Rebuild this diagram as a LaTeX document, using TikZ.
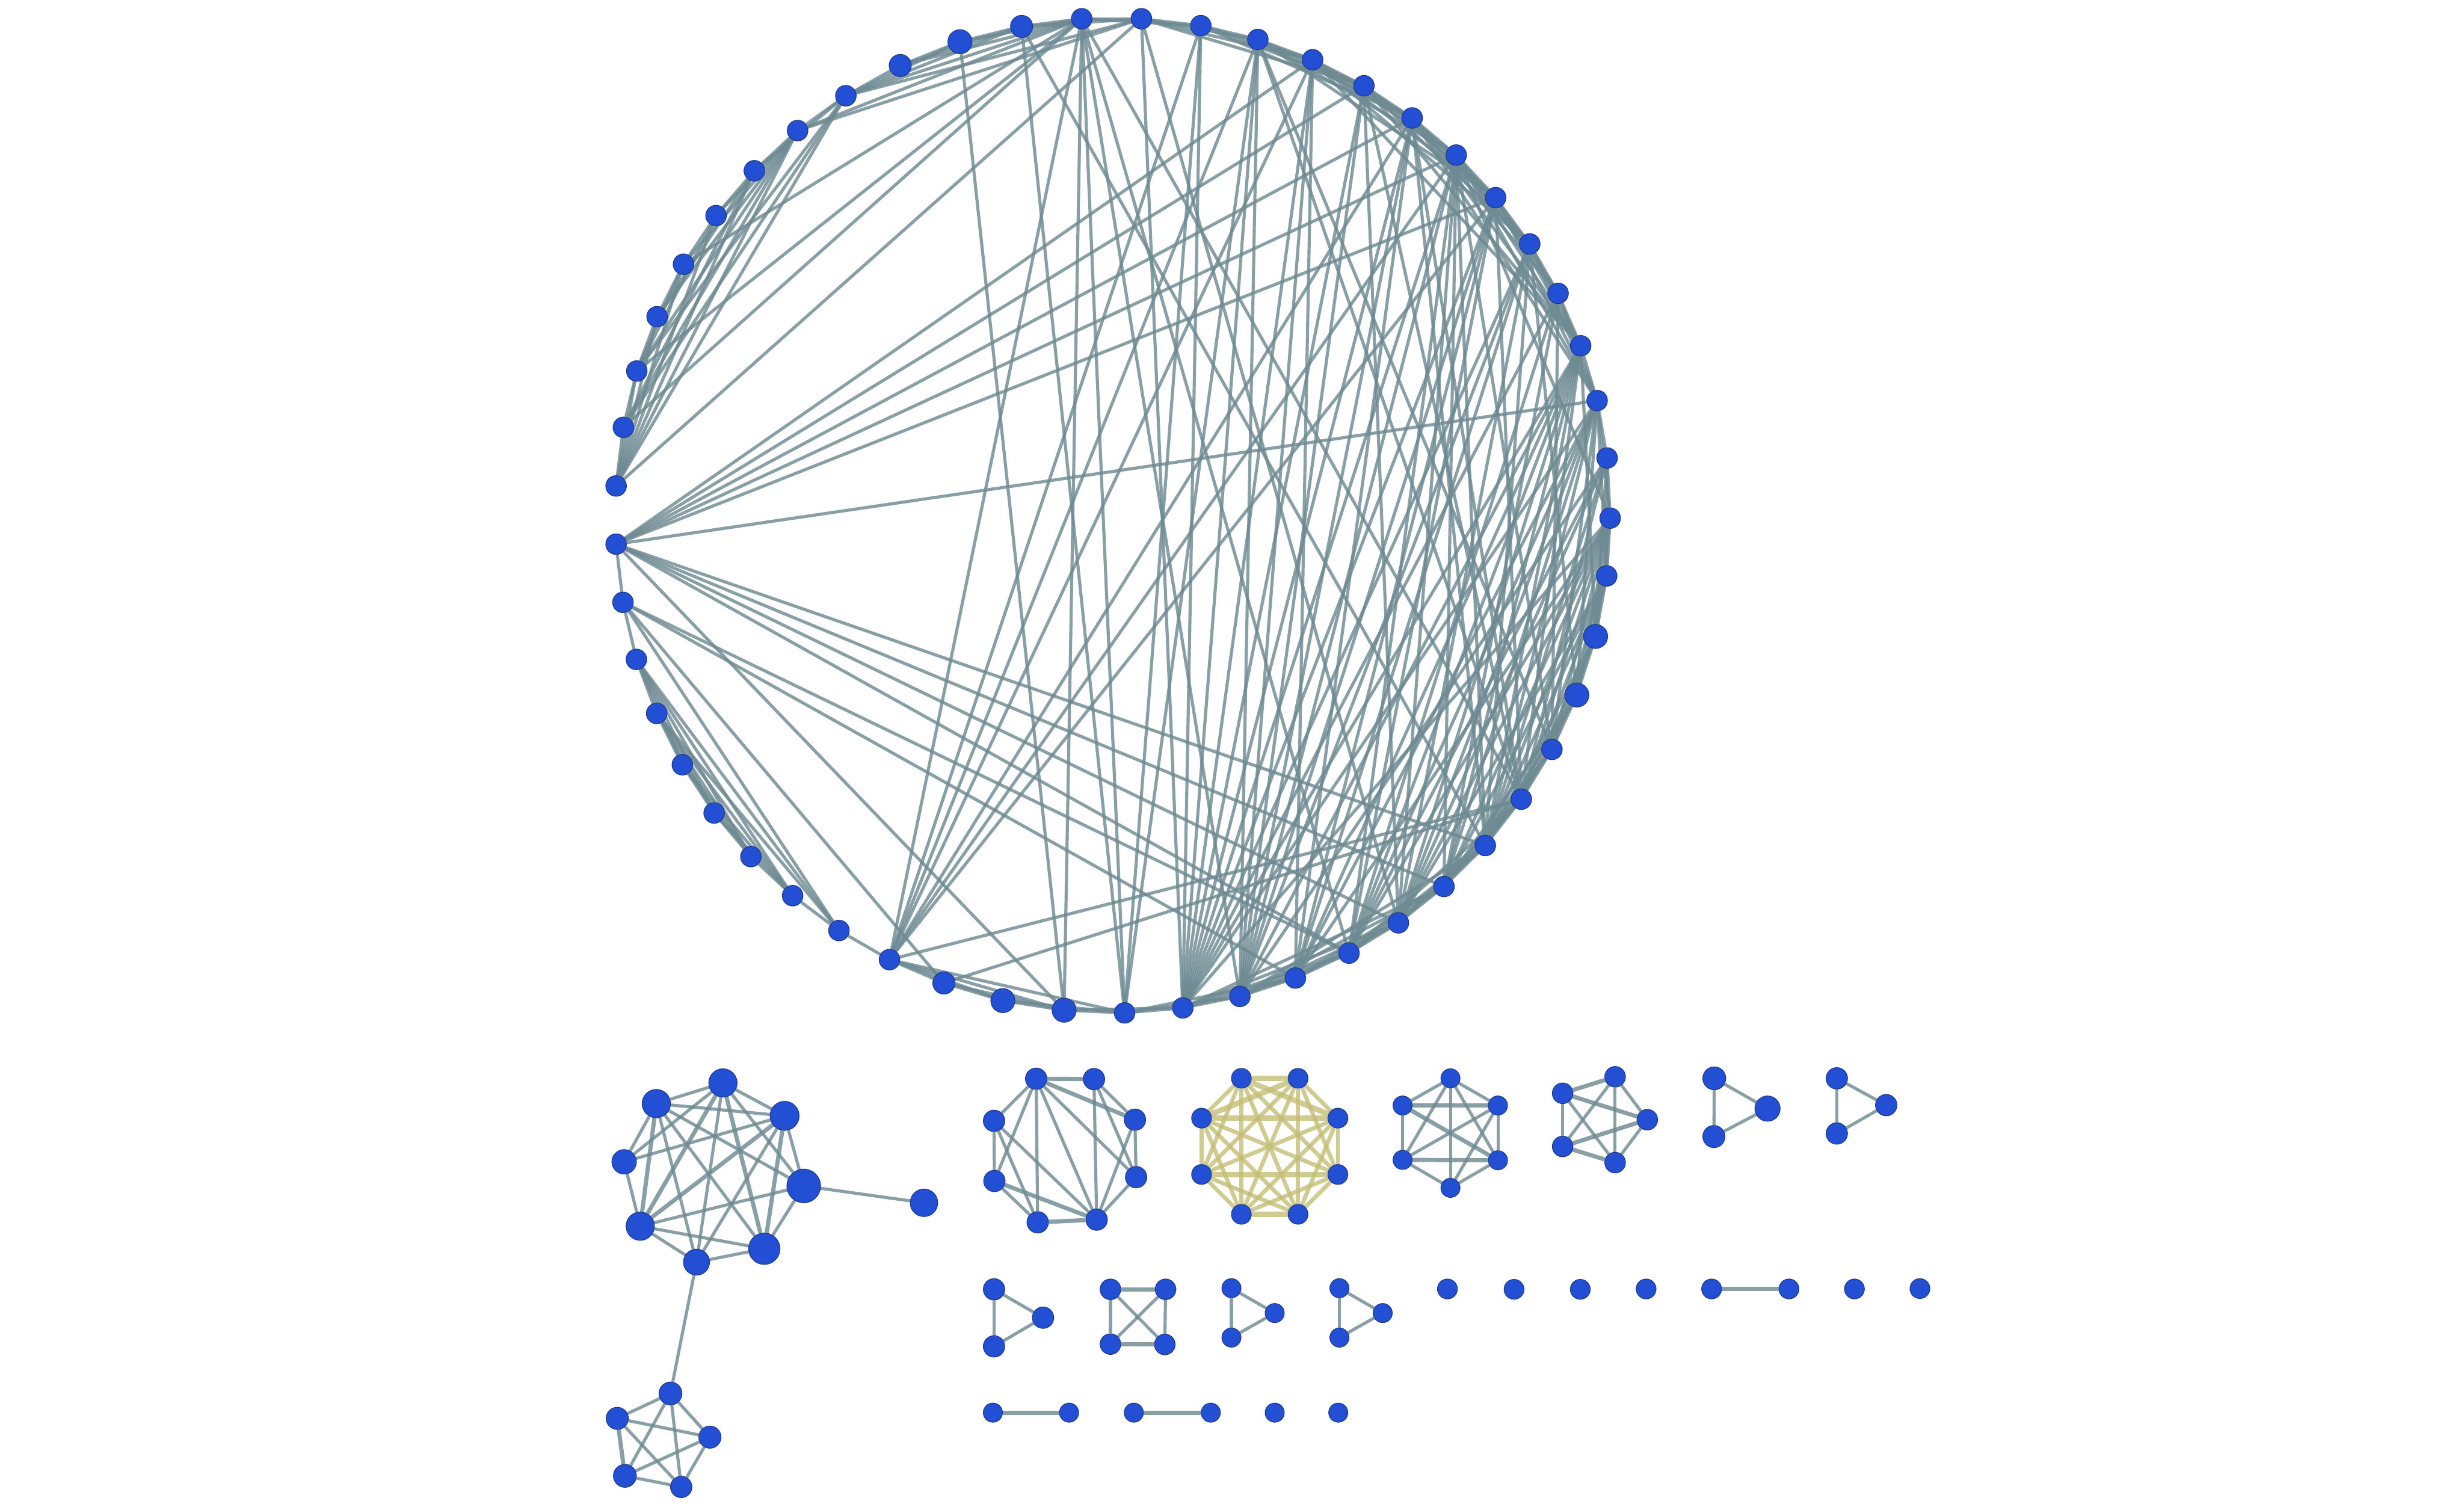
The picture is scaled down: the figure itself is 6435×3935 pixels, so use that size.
\documentclass[tikz,border=0pt]{standalone}
\pgfdeclarelayer{bg}
\pgfdeclarelayer{edges}
\pgfsetlayers{bg,edges,main}
\definecolor{nodeblue}{RGB}{35,79,212}
\definecolor{nodeline}{RGB}{30,55,135}
\definecolor{edgegray}{RGB}{110,138,146}
\definecolor{edgeyel}{RGB}{196,190,118}
\tikzset{
  cn/.style={circle, fill=nodeblue, draw=nodeline, line width=0.5pt, inner sep=0pt, minimum size=#1},
  cn/.default=0.54cm,
  ed/.style={draw=edgegray, line width=2.3pt, draw opacity=0.82},
  edm/.style={draw=edgegray, line width=3.1pt, draw opacity=0.82},
  ey/.style={draw=edgeyel, line width=3.0pt, draw opacity=0.8},
  eyk/.style={draw=edgeyel, line width=4.0pt, draw opacity=0.8}
}
\begin{document}
\begin{tikzpicture}[x=0.01cm,y=-0.01cm]
\begin{pgfonlayer}{bg}
\fill[white] (0,0) rectangle (6435,3935);
\end{pgfonlayer}
\useasboundingbox (0,0) rectangle (6435,3935);
% ---------------- circle nodes
\foreach \i/\x/\y in {1/2981/49,2/2825/49,3/2668/69,4/2507/109,5/2351/171,6/2209/250,7/2083/341,8/1970/446,9/1870/563,10/1785/690,11/1716/827,12/1663/969,13/1628/1116,14/1609/1269,15/1609/1421,16/1627/1573,17/1662/1722,18/1715/1863,19/1782/1997,20/1865/2123,21/1961/2237,22/2070/2339,23/2191/2430,24/2323/2506,25/2465/2567,26/2619/2613,27/2779/2638,28/2937/2645,29/3089/2632,30/3238/2602,31/3383/2554,32/3523/2489,33/3652/2410,34/3771/2315,35/3879/2208,36/3973/2087,37/4053/1957,38/4118/1815,39/4167/1662,40/4196/1504,41/4205/1353,42/4197/1196,43/4171/1046,44/4128/903,45/4069/766,46/3995/637,47/3906/516,48/3803/405,49/3688/308,50/3562/224,51/3428/156,52/3285/103,53/3136/67}
  \node[cn] (n\i) at (\x,\y) {};
\foreach \i in {4,26,27,38,39}
  \node[cn=0.63cm] at (n\i) {};
\foreach \i in {3,5,25}
  \node[cn=0.58cm] at (n\i) {};
% ---------------- lower-left cluster
\node[cn=0.74cm] (cA) at (1888,2828) {};
\node[cn=0.74cm] (cB) at (1714,2882) {};
\node[cn=0.76cm] (cC) at (2049,2914) {};
\node[cn=0.64cm] (cD) at (1630,3034) {};
\node[cn=0.88cm] (cE) at (2099,3097) {};
\node[cn=0.74cm] (cF) at (1672,3202) {};
\node[cn=0.82cm] (cG) at (1996,3261) {};
\node[cn=0.68cm] (cH) at (1819,3296) {};
\node[cn=0.72cm] (cP) at (2413,3141) {};
\node[cn=0.6cm] (q1) at (1751,3639) {};
\node[cn=0.58cm] (q2) at (1612,3704) {};
\node[cn=0.58cm] (q3) at (1854,3753) {};
\node[cn=0.6cm] (q4) at (1632,3854) {};
\node[cn=0.56cm] (q5) at (1779,3883) {};
% ---------------- octagon (gray)
\node[cn=0.56cm] (o1) at (2706,2817) {};
\node[cn=0.56cm] (o2) at (2857,2818) {};
\node[cn=0.56cm] (o3) at (2596,2927) {};
\node[cn=0.56cm] (o4) at (2964,2924) {};
\node[cn=0.56cm] (o5) at (2597,3084) {};
\node[cn=0.56cm] (o6) at (2967,3074) {};
\node[cn=0.56cm] (o7) at (2710,3192) {};
\node[cn=0.56cm] (o8) at (2864,3185) {};
% ---------------- yellow octagon
\node[cn=0.52cm] (y1) at (3242,2816) {};
\node[cn=0.52cm] (y2) at (3390,2816) {};
\node[cn=0.52cm] (y3) at (3138,2920) {};
\node[cn=0.52cm] (y4) at (3494,2920) {};
\node[cn=0.52cm] (y5) at (3138,3067) {};
\node[cn=0.52cm] (y6) at (3494,3067) {};
\node[cn=0.52cm] (y7) at (3242,3171) {};
\node[cn=0.52cm] (y8) at (3390,3171) {};
% ---------------- hexagon
\node[cn=0.5cm] (x1) at (3788,2816) {};
\node[cn=0.5cm] (x2) at (3663,2887) {};
\node[cn=0.5cm] (x3) at (3912,2887) {};
\node[cn=0.5cm] (x4) at (3663,3029) {};
\node[cn=0.5cm] (x5) at (3912,3030) {};
\node[cn=0.5cm] (x6) at (3788,3102) {};
% ---------------- pentagon
\node[cn=0.54cm] (p1) at (4218,2812) {};
\node[cn=0.54cm] (p2) at (4081,2855) {};
\node[cn=0.54cm] (p3) at (4302,2924) {};
\node[cn=0.54cm] (p4) at (4081,2994) {};
\node[cn=0.54cm] (p5) at (4218,3036) {};
% ---------------- triangles row 1
\node[cn=0.6cm] (t1) at (4477,2816) {};
\node[cn=0.66cm] (t2) at (4616,2895) {};
\node[cn=0.58cm] (t3) at (4476,2968) {};
\node[cn=0.56cm] (u1) at (4797,2816) {};
\node[cn=0.56cm] (u2) at (4926,2886) {};
\node[cn=0.56cm] (u3) at (4797,2960) {};
% ---------------- row 2
\node[cn=0.56cm] (a1) at (2596,3367) {};
\node[cn=0.56cm] (a2) at (2724,3441) {};
\node[cn=0.56cm] (a3) at (2596,3516) {};
\node[cn=0.54cm] (s1) at (2900,3367) {};
\node[cn=0.54cm] (s2) at (3044,3367) {};
\node[cn=0.54cm] (s3) at (2900,3510) {};
\node[cn=0.54cm] (s4) at (3042,3511) {};
\node[cn=0.5cm] (b1) at (3216,3364) {};
\node[cn=0.5cm] (b2) at (3329,3429) {};
\node[cn=0.5cm] (b3) at (3216,3493) {};
\node[cn=0.5cm] (d1) at (3498,3364) {};
\node[cn=0.5cm] (d2) at (3611,3429) {};
\node[cn=0.5cm] (d3) at (3498,3493) {};
\node[cn=0.52cm] (i1) at (3780,3366) {};
\node[cn=0.52cm] (i2) at (3954,3367) {};
\node[cn=0.52cm] (i3) at (4127,3367) {};
\node[cn=0.52cm] (i4) at (4299,3366) {};
\node[cn=0.52cm] (e1) at (4470,3366) {};
\node[cn=0.52cm] (e2) at (4672,3366) {};
\node[cn=0.52cm] (i5) at (4843,3366) {};
\node[cn=0.52cm] (i6) at (5014,3365) {};
% ---------------- row 3
\node[cn=0.5cm] (f1) at (2593,3689) {};
\node[cn=0.5cm] (f2) at (2792,3689) {};
\node[cn=0.5cm] (g1) at (2961,3689) {};
\node[cn=0.5cm] (g2) at (3162,3689) {};
\node[cn=0.5cm] (i7) at (3329,3689) {};
\node[cn=0.5cm] (i8) at (3495,3689) {};

\begin{pgfonlayer}{edges}
% circle edges
\foreach \a/\b in {1/2,2/3,3/4,4/5,5/6,6/7,7/8,8/9,9/10,10/11,11/12,12/13,13/14,15/16,16/17,17/18,18/19,19/20,20/21,21/22,22/23,23/24,24/25,25/26,26/27,27/28,28/29,29/30,30/31,31/32,32/33,33/34,34/35,35/36,36/37,37/38,38/39,39/40,40/41,41/42,42/43,43/44,44/45,45/46,46/47,47/48,48/49,49/50,50/51,51/52,52/53,53/1,
 6/8,6/12,6/13,6/14,7/9,7/10,7/11,7/12,7/13,7/14,8/11,8/13,8/14,9/12,9/14,10/12,10/14,11/14,12/14,
 2/4,2/5,2/6,2/7,1/6,1/7,3/5,3/6,4/6,1/3,2/53,
 2/10,2/12,2/13,1/14,
 2/24,2/27,2/28,2/30,2/32,2/36,3/28,3/35,4/27,53/24,53/28,52/24,51/24,49/24,48/24,47/24,1/29,1/33,
 15/43,15/47,15/48,15/49,15/50,15/51,15/32,15/33,15/34,15/35,15/27,
 16/32,16/31,16/25,16/23,
 17/19,17/20,17/21,17/22,17/23,18/20,18/21,18/22,18/23,19/21,19/22,20/22,
 24/26,24/27,24/28,25/27,26/28,27/29,24/36,25/36,
 29/53,29/52,29/51,29/50,29/49,29/48,29/47,29/46,29/45,29/44,29/43,29/41,29/31,29/32,29/33,29/34,
 30/52,30/51,30/50,30/49,30/48,30/47,30/46,30/44,30/42,30/32,30/33,30/34,30/35,
 31/51,31/49,31/47,31/46,31/44,31/43,31/41,31/33,31/34,
 28/52,28/30,28/31,
 32/41,32/42,32/43,32/44,32/45,32/47,32/48,32/34,32/35,32/36,
 33/40,33/41,33/42,33/43,33/44,33/46,33/48,33/50,33/35,33/36,
 34/36,34/37,34/38,34/40,34/41,34/43,34/44,34/45,34/48,
 35/37,35/38,35/39,35/40,35/41,35/42,35/43,35/44,35/46,35/48,35/49,
 36/38,36/39,36/40,36/41,36/42,36/44,36/47,36/49,36/50,36/52,
 37/39,37/40,37/41,37/43,37/45,37/48,37/52,
 38/40,38/41,38/43,38/46,
 39/41,39/42,39/44,
 40/42,40/43,
 41/43,41/48,
 43/45,43/46,43/47,43/48,43/49,44/46,44/47,44/48,44/49,44/50,44/51,45/47,45/48,45/49,46/48,46/49,46/50,46/51,47/49,47/50,47/51,47/52,48/50,48/51,48/52,49/51,49/52,49/53,50/52,50/53,51/53,1/51,1/52,1/50}
  \draw[ed] (n\a) -- (n\b);
% lower-left cluster
\foreach \a/\b in {A/B,A/C,A/D,A/E,A/H,B/C,B/D,B/E,B/G,B/H,C/D,C/E,C/H,D/F,E/F,E/G,E/P,F/G,F/H,G/H}
  \draw[ed] (c\a) -- (c\b);
\foreach \a/\b in {A/F,A/G,B/F,C/F,C/G}
  \draw[edm] (c\a) -- (c\b);
\draw[ed] (cH) -- (q1);
\foreach \a/\b in {1/2,1/3,1/4,1/5,2/3,2/5,3/4,3/5,4/5}
  \draw[ed] (q\a) -- (q\b);
\draw[edm] (q2) -- (q4);
% octagon
\foreach \a/\b in {1/3,1/5,1/7,1/8,1/6,2/4,2/6,2/8,3/5,3/7,3/8,4/6,4/8,5/7,6/8}
  \draw[ed] (o\a) -- (o\b);
\foreach \a/\b in {1/2,1/4,5/8,7/8}
  \draw[edm] (o\a) -- (o\b);
% yellow complete graph
\foreach \a/\b in {1/3,1/5,1/6,1/7,1/8,2/4,2/5,2/6,2/7,2/8,3/5,3/6,3/7,3/8,4/5,4/6,4/7,4/8,5/7,5/8,6/7,6/8}
  \draw[ey] (y\a) -- (y\b);
\foreach \a/\b in {1/2,3/4,5/6,7/8,1/4,2/3}
  \draw[eyk] (y\a) -- (y\b);
% hexagon
\foreach \a/\b in {1/2,1/3,1/4,1/5,1/6,2/4,3/4,3/5,3/6,4/6,5/6}
  \draw[ed] (x\a) -- (x\b);
\foreach \a/\b in {2/3,4/5,2/5}
  \draw[edm] (x\a) -- (x\b);
% pentagon
\foreach \a/\b in {1/3,1/4,1/5,2/4,2/5,3/5}
  \draw[ed] (p\a) -- (p\b);
\foreach \a/\b in {1/2,2/3,3/4,4/5}
  \draw[edm] (p\a) -- (p\b);
% triangles
\draw[ed] (t1) -- (t3); \draw[ed] (t1) -- (t2); \draw[ed] (t2) -- (t3);
\draw[ed] (u1) -- (u3); \draw[ed] (u1) -- (u2); \draw[ed] (u2) -- (u3);
\draw[ed] (a1) -- (a3); \draw[ed] (a1) -- (a2); \draw[ed] (a2) -- (a3);
\draw[ed] (b1) -- (b3); \draw[ed] (b1) -- (b2); \draw[ed] (b2) -- (b3);
\draw[ed] (d1) -- (d3); \draw[ed] (d1) -- (d2); \draw[ed] (d2) -- (d3);
% square
\draw[edm] (s1) -- (s2); \draw[edm] (s3) -- (s4);
\draw[ed] (s1) -- (s3); \draw[ed] (s2) -- (s4); \draw[ed] (s1) -- (s4); \draw[ed] (s2) -- (s3);
% pairs
\draw[edm] (e1) -- (e2);
\draw[edm] (f1) -- (f2);
\draw[edm] (g1) -- (g2);
\end{pgfonlayer}
\end{tikzpicture}
\end{document}
